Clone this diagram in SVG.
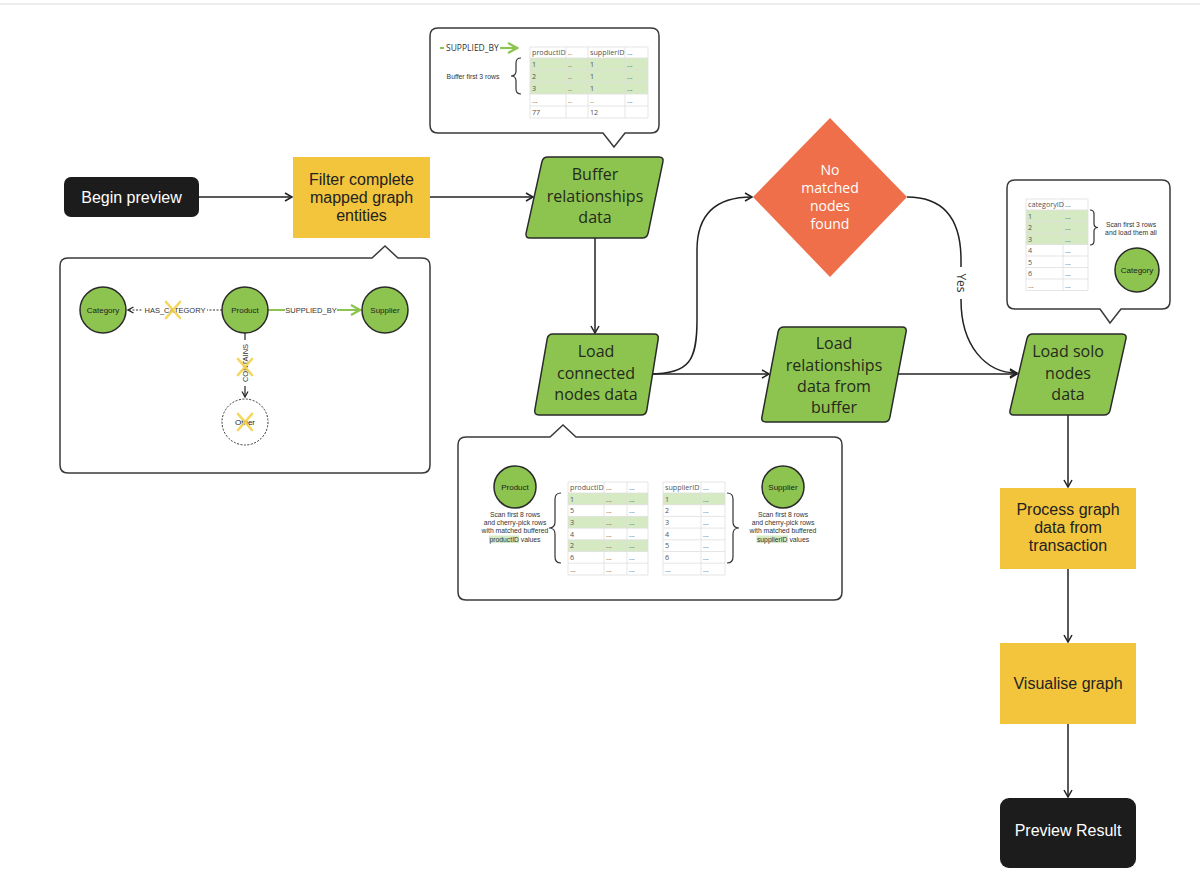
<svg xmlns="http://www.w3.org/2000/svg" width="1200" height="889" viewBox="0 0 1200 889">
<defs>
<marker id="arr" markerWidth="10" markerHeight="10" refX="8" refY="5" orient="auto" markerUnits="userSpaceOnUse">
<path d="M1,1 L8,5 L1,9" fill="none" stroke="#222" stroke-width="1.5"/>
</marker>
<marker id="arrS" markerWidth="8" markerHeight="8" refX="6.5" refY="4" orient="auto" markerUnits="userSpaceOnUse">
<path d="M1,1 L6.5,4 L1,7" fill="none" stroke="#222" stroke-width="1.2"/>
</marker>
<marker id="arrG" markerWidth="12" markerHeight="12" refX="10" refY="6" orient="auto" markerUnits="userSpaceOnUse">
<path d="M1,1 L10,6 L1,11" fill="none" stroke="#8cc44f" stroke-width="2.2"/>
</marker>
<style>
.conn{fill:none;stroke:#222;stroke-width:1.5}
.para{fill:#8cc44f;stroke:#2a2a2a;stroke-width:1.5}
.ptxt{font-family:"Open Sans",sans-serif;font-size:16px;fill:#252a1c;text-anchor:middle}
.btxt{font-family:"Liberation Sans",Arial,sans-serif;font-size:16px;fill:#fff;text-anchor:middle}
.ytxt{font-family:"Liberation Sans",Arial,sans-serif;font-size:16px;fill:#222;text-anchor:middle}
.dtxt{font-family:"Open Sans",sans-serif;font-size:14px;fill:#fff;text-anchor:middle}
.call{fill:#fff;stroke:#3a3a3a;stroke-width:1.5}
.grid{fill:none;stroke:#dedede;stroke-width:0.8}
.hl{fill:#d5e9c2}
.tt{font-family:"Open Sans",sans-serif;font-size:7.2px;fill:#555}
.st{font-family:"Liberation Sans",Arial,sans-serif;font-size:6.8px;fill:#333;text-anchor:middle}
.circ{fill:#8cc44f;stroke:#2a2a2a;stroke-width:1.5}
.ctxt{font-family:"Liberation Sans",Arial,sans-serif;font-size:8px;fill:#222;text-anchor:middle}
.lbl{font-family:"Liberation Sans",Arial,sans-serif;font-size:7.5px;fill:#333;text-anchor:middle}
.xx{stroke:#f3d24a;stroke-width:2.6;stroke-linecap:round;opacity:0.9}
.brace{fill:none;stroke:#333;stroke-width:1.2}
</style>
</defs>
<rect width="1200" height="889" fill="#fff"/>
<line x1="0" y1="4" x2="1200" y2="4" stroke="#ececec" stroke-width="2"/>

<g id="connectors">
<path class="conn" d="M199,197 H292" marker-end="url(#arr)"/>
<path class="conn" d="M430,197 H533" marker-end="url(#arr)"/>
<path class="conn" d="M595,238 V333" marker-end="url(#arr)"/>
<path class="conn" d="M650,374 C690,374 697,360 697,320 L697,250 C697,215 715,197 752,197" marker-end="url(#arr)"/>
<path class="conn" d="M650,374 H769" marker-end="url(#arr)"/>
<path class="conn" d="M898,374 H1017" marker-end="url(#arr)"/>
<path class="conn" d="M907,197 C945,197 961,220 961,260 L961,300 C961,345 985,373 1017,373" marker-end="url(#arr)"/>
<rect x="953" y="267" width="16" height="32" fill="#fff"/>
<text x="961" y="283" transform="rotate(90 961 283)" font-family="'Open Sans',sans-serif" font-size="12" fill="#333" text-anchor="middle" dominant-baseline="central">Yes</text>
<path class="conn" d="M1068,415 V487" marker-end="url(#arr)"/>
<path class="conn" d="M1068,569 V642" marker-end="url(#arr)"/>
<path class="conn" d="M1068,724 V797" marker-end="url(#arr)"/>
</g>

<g id="begin-preview">
<rect x="64" y="177" width="135" height="40" rx="7" fill="#1c1c1c"/>
<text class="btxt" x="131.5" y="203">Begin preview</text>
</g>

<g id="filter-entities">
<rect x="293" y="157" width="137" height="81" fill="#f2c53d"/>
<text class="ytxt" x="361.5" y="185">Filter complete</text>
<text class="ytxt" x="361.5" y="203">mapped graph</text>
<text class="ytxt" x="361.5" y="221">entities</text>
</g>

<g id="buffer-relationships">
<path class="para" d="M548,157 H659 Q664,157 662.9,161.9 L648.1,233.1 Q647,238 642,238 H530 Q525,238 526.1,233.1 L541.9,161.9 Q543,157 548,157 Z"/>
<text class="ptxt" x="595" y="180">Buffer</text>
<text class="ptxt" x="595" y="202">relationships</text>
<text class="ptxt" x="595" y="223">data</text>
</g>

<g id="load-connected-nodes">
<path class="para" d="M553,334 H654 Q659,334 658.2,338.9 L646.8,410.1 Q646,415 641,415 H539 Q534,415 534.8,410.1 L547.2,338.9 Q548,334 553,334 Z"/>
<text class="ptxt" x="596" y="357">Load</text>
<text class="ptxt" x="596" y="379">connected</text>
<text class="ptxt" x="596" y="400">nodes data</text>
</g>

<g id="no-matched-nodes">
<path d="M830,118 L907,197 L830,277 L753,197 Z" fill="#ee6f4a"/>
<text class="dtxt" x="830" y="175">No</text>
<text class="dtxt" x="830" y="193">matched</text>
<text class="dtxt" x="830" y="211">nodes</text>
<text class="dtxt" x="830" y="229">found</text>
</g>

<g id="load-relationships-buffer">
<path class="para" d="M784,327 H902 Q907,327 906.1,331.9 L889.9,417.1 Q889,422 884,422 H766 Q761,422 761.9,417.1 L778.1,331.9 Q779,327 784,327 Z"/>
<text class="ptxt" x="834" y="349">Load</text>
<text class="ptxt" x="834" y="371">relationships</text>
<text class="ptxt" x="834" y="392">data from</text>
<text class="ptxt" x="834" y="413">buffer</text>
</g>

<g id="load-solo-nodes">
<path class="para" d="M1033,334 H1122 Q1127,334 1125.9,338.9 L1110.1,410.1 Q1109,415 1104,415 H1014 Q1009,415 1010.1,410.1 L1026.9,338.9 Q1028,334 1033,334 Z"/>
<text class="ptxt" x="1068" y="357">Load solo</text>
<text class="ptxt" x="1068" y="379">nodes</text>
<text class="ptxt" x="1068" y="400">data</text>
</g>

<g id="process-graph-data">
<rect x="1000" y="488" width="136" height="81" fill="#f2c53d"/>
<text class="ytxt" x="1068" y="515">Process graph</text>
<text class="ytxt" x="1068" y="533">data from</text>
<text class="ytxt" x="1068" y="551">transaction</text>
</g>

<g id="visualise-graph">
<rect x="1000" y="643" width="136" height="81" fill="#f2c53d"/>
<text class="ytxt" x="1068" y="689">Visualise graph</text>
</g>

<g id="preview-result">
<rect x="1000" y="798" width="136" height="70" rx="9" fill="#1c1c1c"/>
<text class="btxt" x="1068" y="836">Preview Result</text>
</g>

<g id="callout-buffer">
<path class="call" d="M438,28 H651 Q659,28 659,36 V125 Q659,133 651,133 H625 L614,147 L603,133 H438 Q430,133 430,125 V36 Q430,28 438,28 Z"/>
<line x1="440" y1="48" x2="444" y2="48" stroke="#8cc44f" stroke-width="2"/>
<text x="446" y="51" font-family="'Open Sans',sans-serif" font-size="8.5" fill="#333">SUPPLIED_BY</text>
<line x1="500" y1="48" x2="517" y2="48" stroke="#8cc44f" stroke-width="2.2" marker-end="url(#arrG)"/>
<rect class="hl" x="530" y="58" width="118" height="36"/>
<path class="grid" d="M530,47 H648 M530,58 H648 M530,70 H648 M530,82 H648 M530,94 H648 M530,106 H648 M530,118 H648 M530,47 V118 M566,47 V118 M588,47 V118 M625,47 V118 M648,47 V118"/>
<text class="tt" x="532" y="55">productID</text><text class="tt" x="568" y="55">..</text><text class="tt" x="590" y="55">supplierID</text><text class="tt" x="627" y="55">...</text>
<text class="tt" x="532" y="67">1</text><text class="tt" x="568" y="67">..</text><text class="tt" x="590" y="67">1</text><text class="tt" x="627" y="67">...</text>
<text class="tt" x="532" y="79">2</text><text class="tt" x="568" y="79">..</text><text class="tt" x="590" y="79">1</text><text class="tt" x="627" y="79">...</text>
<text class="tt" x="532" y="91">3</text><text class="tt" x="568" y="91">..</text><text class="tt" x="590" y="91">1</text><text class="tt" x="627" y="91">...</text>
<text class="tt" x="532" y="103">...</text><text class="tt" x="568" y="103">..</text><text class="tt" x="590" y="103">..</text><text class="tt" x="627" y="103">...</text>
<text class="tt" x="532" y="115">77</text><text class="tt" x="590" y="115">12</text>
<path class="brace" d="M521,58 Q516,58 516,63 V71 Q516,76 511,76 Q516,76 516,81 V89 Q516,94 521,94"/>
<text class="st" x="473" y="79" font-size="6.5">Buffer first 3 rows</text>
</g>

<g id="callout-mapped-entities">
<path class="call" d="M68,258 H372 L385,246 L398,258 H422 Q430,258 430,266 V465 Q430,473 422,473 H68 Q60,473 60,465 V266 Q60,258 68,258 Z"/>
<line x1="222" y1="310" x2="128" y2="310" stroke="#333" stroke-width="1" stroke-dasharray="2,1.5" marker-end="url(#arrS)"/>
<rect x="143" y="304" width="64" height="12" fill="#fff"/>
<text class="lbl" x="175" y="313">HAS_CATEGORY</text>
<line x1="268" y1="310" x2="360" y2="310" stroke="#8cc44f" stroke-width="2" marker-end="url(#arrG)"/>
<rect x="285" y="304" width="52" height="12" fill="#fff"/>
<text class="lbl" x="311" y="313">SUPPLIED_BY</text>
<line x1="245" y1="333" x2="245" y2="397" stroke="#222" stroke-width="1.2" marker-end="url(#arrS)"/>
<rect x="239" y="340" width="12" height="46" fill="#fff"/>
<text class="lbl" x="245" y="363" transform="rotate(-90 245 363)" dominant-baseline="central">CONTAINS</text>
<circle class="circ" cx="103" cy="310" r="23"/>
<text class="ctxt" x="103" y="313">Category</text>
<circle class="circ" cx="245" cy="310" r="23"/>
<text class="ctxt" x="245" y="313">Product</text>
<circle class="circ" cx="385" cy="310" r="23"/>
<text class="ctxt" x="385" y="313">Supplier</text>
<circle cx="245" cy="422" r="23" fill="#fff" stroke="#333" stroke-width="1" stroke-dasharray="2,1.5"/>
<text class="ctxt" x="245" y="425">Other</text>
<path class="xx" d="M166,302 L180,318 M180,302 L166,318"/>
<path class="xx" d="M238,359 L252,375 M252,359 L238,375"/>
<path class="xx" d="M238,414 L252,430 M252,414 L238,430"/>
</g>

<g id="callout-connected-nodes">
<path class="call" d="M466,437 H550 L563,425 L576,437 H834 Q842,437 842,445 V592 Q842,600 834,600 H466 Q458,600 458,592 V445 Q458,437 466,437 Z"/>
<circle class="circ" cx="515" cy="487" r="21"/>
<text class="ctxt" x="515" y="490">Product</text>
<text class="st" x="515" y="517">Scan first 8 rows</text>
<text class="st" x="515" y="525">and cherry-pick rows</text>
<text class="st" x="515" y="533">with matched buffered</text>
<rect class="hl" x="489" y="535.5" width="30" height="7.5" fill="#a8d47c"/>
<text class="st" x="515" y="541.5">productID values</text>
<rect class="hl" x="568" y="493" width="80" height="11.7"/>
<rect class="hl" x="568" y="516.4" width="80" height="11.7"/>
<rect class="hl" x="568" y="539.8" width="80" height="11.7"/>
<path class="grid" d="M568,482 H648 M568,493 H648 M568,504.7 H648 M568,516.4 H648 M568,528.1 H648 M568,539.8 H648 M568,551.5 H648 M568,563.2 H648 M568,575 H648 M568,482 V575 M604,482 V575 M627,482 V575 M648,482 V575"/>
<text class="tt" x="570" y="490">productID</text><text class="tt" x="606" y="490">...</text><text class="tt" x="629" y="490">...</text>
<text class="tt" x="570" y="501.5">1</text><text class="tt" x="606" y="501.5">...</text><text class="tt" x="629" y="501.5">...</text>
<text class="tt" x="570" y="513.2">5</text><text class="tt" x="606" y="513.2">...</text><text class="tt" x="629" y="513.2">...</text>
<text class="tt" x="570" y="524.9">3</text><text class="tt" x="606" y="524.9">...</text><text class="tt" x="629" y="524.9">...</text>
<text class="tt" x="570" y="536.6">4</text><text class="tt" x="606" y="536.6">...</text><text class="tt" x="629" y="536.6">...</text>
<text class="tt" x="570" y="548.3">2</text><text class="tt" x="606" y="548.3">...</text><text class="tt" x="629" y="548.3">...</text>
<text class="tt" x="570" y="560">6</text><text class="tt" x="606" y="560">...</text><text class="tt" x="629" y="560">...</text>
<text class="tt" x="570" y="571.7">...</text><text class="tt" x="606" y="571.7">...</text><text class="tt" x="629" y="571.7">...</text>
<path class="brace" d="M561,493 Q555,493 555,499 V522 Q555,528 549,528 Q555,528 555,534 V557 Q555,563 561,563"/>
<rect class="hl" x="663" y="493" width="62" height="11.7"/>
<path class="grid" d="M663,482 H725 M663,493 H725 M663,504.7 H725 M663,516.4 H725 M663,528.1 H725 M663,539.8 H725 M663,551.5 H725 M663,563.2 H725 M663,575 H725 M663,482 V575 M701,482 V575 M725,482 V575"/>
<text class="tt" x="665" y="490">supplierID</text><text class="tt" x="703" y="490">...</text>
<text class="tt" x="665" y="501.5">1</text><text class="tt" x="703" y="501.5">...</text>
<text class="tt" x="665" y="513.2">2</text><text class="tt" x="703" y="513.2">...</text>
<text class="tt" x="665" y="524.9">3</text><text class="tt" x="703" y="524.9">...</text>
<text class="tt" x="665" y="536.6">4</text><text class="tt" x="703" y="536.6">...</text>
<text class="tt" x="665" y="548.3">5</text><text class="tt" x="703" y="548.3">...</text>
<text class="tt" x="665" y="560">6</text><text class="tt" x="703" y="560">...</text>
<text class="tt" x="665" y="571.7">...</text><text class="tt" x="703" y="571.7">...</text>
<path class="brace" d="M727,493 Q733,493 733,499 V522 Q733,528 739,528 Q733,528 733,534 V557 Q733,563 727,563"/>
<circle class="circ" cx="783" cy="487" r="21"/>
<text class="ctxt" x="783" y="490">Supplier</text>
<text class="st" x="783" y="517">Scan first 8 rows</text>
<text class="st" x="783" y="525">and cherry-pick rows</text>
<text class="st" x="783" y="533">with matched buffered</text>
<rect class="hl" x="756.5" y="535.5" width="31.5" height="7.5" fill="#a8d47c"/>
<text class="st" x="783" y="541.5">supplierID values</text>
</g>

<g id="callout-solo-nodes">
<path class="call" d="M1015,180 H1162 Q1170,180 1170,188 V301 Q1170,309 1162,309 H1121 L1110,323 L1100,309 H1015 Q1007,309 1007,301 V188 Q1007,180 1015,180 Z"/>
<rect class="hl" x="1026" y="210" width="62" height="34.5"/>
<path class="grid" d="M1026,199 H1088 M1026,210 H1088 M1026,221.5 H1088 M1026,233 H1088 M1026,244.5 H1088 M1026,256 H1088 M1026,267.5 H1088 M1026,279 H1088 M1026,290.5 H1088 M1026,199 V290.5 M1063,199 V290.5 M1088,199 V290.5"/>
<text class="tt" x="1028" y="207">categoryID</text><text class="tt" x="1065" y="207">...</text>
<text class="tt" x="1028" y="218.5">1</text><text class="tt" x="1065" y="218.5">...</text>
<text class="tt" x="1028" y="230">2</text><text class="tt" x="1065" y="230">...</text>
<text class="tt" x="1028" y="241.5">3</text><text class="tt" x="1065" y="241.5">...</text>
<text class="tt" x="1028" y="253">4</text><text class="tt" x="1065" y="253">...</text>
<text class="tt" x="1028" y="264.5">5</text><text class="tt" x="1065" y="264.5">...</text>
<text class="tt" x="1028" y="276">6</text><text class="tt" x="1065" y="276">...</text>
<text class="tt" x="1028" y="287.5">...</text><text class="tt" x="1065" y="287.5">...</text>
<path class="brace" d="M1090,210 Q1094,210 1094,214 V223.5 Q1094,227.5 1098,227.5 Q1094,227.5 1094,231.5 V241 Q1094,245 1090,245"/>
<text class="st" x="1131" y="227" font-size="6.3">Scan first 3 rows</text>
<text class="st" x="1131" y="235" font-size="6.3">and load them all</text>
<circle class="circ" cx="1137" cy="270" r="22"/>
<text class="ctxt" x="1137" y="273">Category</text>
</g>
</svg>
